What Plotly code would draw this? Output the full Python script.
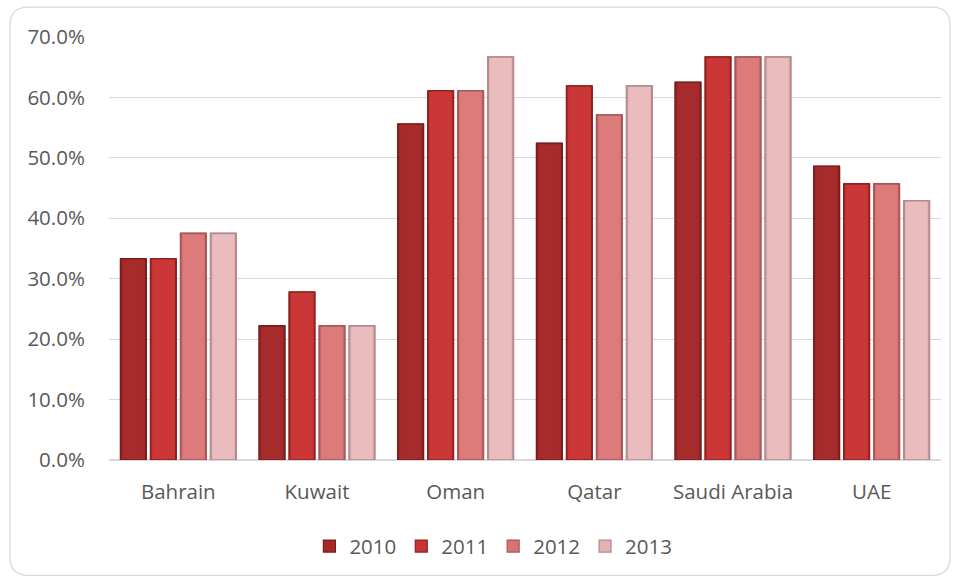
import plotly.graph_objects as go

# Share of indicators met, by country and year
countries = ["Bahrain", "Kuwait", "Oman", "Qatar", "Saudi Arabia", "UAE"]
years = ["2010", "2011", "2012", "2013"]
v2010 = [0.333, 0.222, 0.556, 0.524, 0.625, 0.486]
v2011 = [0.333, 0.278, 0.611, 0.619, 0.667, 0.457]
v2012 = [0.375, 0.222, 0.611, 0.571, 0.667, 0.457]
v2013 = [0.375, 0.222, 0.667, 0.619, 0.667, 0.429]
y_ticks = [0.0, 0.1, 0.2, 0.3, 0.4, 0.5, 0.6, 0.7]

series = [v2010, v2011, v2012, v2013]
fills = ["#A5292A", "#C63433", "#D87373", "#E6B3B5"]
edges = ["#7A1C1C", "#8F2322", "#A65757", "#B08A8C"]
cores = ["#A82B2B", "#CB3736", "#DD7B7B", "#EBBCBE"]

FONT = "Open Sans"
GREY = "#595959"
FS = 20.5

pitch = 0.2163   # distance between neighbouring bars in a group
bar_w = 0.1875   # bar width
core_w = 0.150   # lighter inner face, leaves shaded edges on both sides

fig = go.Figure()
for k, (yr, vals) in enumerate(zip(years, series)):
    off = (k - 1.5) * pitch
    xs = [i + off for i in range(len(countries))]
    # darker body gives the shaded sides
    fig.add_trace(go.Bar(
        x=xs, y=vals, width=bar_w, name=yr,
        marker=dict(color=fills[k], line=dict(color=edges[k], width=1.2)),
        hoverinfo="y",
    ))
    fig.add_trace(go.Bar(
        x=xs, y=vals, width=core_w, showlegend=False,
        marker=dict(color=cores[k], line=dict(width=0)),
        hoverinfo="skip",
    ))
    fig.add_trace(go.Bar(
        x=xs, y=vals, width=bar_w * 0.96, showlegend=False,
        marker=dict(color="rgba(0,0,0,0)", line=dict(color=edges[k], width=1.6)),
        hoverinfo="skip",
    ))

# rounded frame around the whole chart (paper coords relative to the plot area)
x0, x1, y0, y1 = -0.119, 1.0108, -0.2727, 1.0708
rx, ry = 0.022, 0.043
frame = (f"M {x0+rx},{y1} L {x1-rx},{y1} Q {x1},{y1} {x1},{y1-ry} "
         f"L {x1},{y0+ry} Q {x1},{y0} {x1-rx},{y0} "
         f"L {x0+rx},{y0} Q {x0},{y0} {x0},{y0+ry} "
         f"L {x0},{y1-ry} Q {x0},{y1} {x0+rx},{y1} Z")

fig.update_layout(
    width=958, height=579,
    margin=dict(l=109, r=17, t=37, b=118.5),
    paper_bgcolor="white", plot_bgcolor="white",
    barmode="overlay",
    font=dict(family=FONT, size=FS, color=GREY),
    shapes=[dict(type="path", path=frame, xref="paper", yref="paper",
                 line=dict(color="#DADADA", width=1.3), layer="below")],
    legend=dict(orientation="h", x=0.462, xanchor="center", y=-0.204, yanchor="middle",
                font=dict(family=FONT, size=FS, color=GREY),
                itemwidth=30, traceorder="normal"),
    showlegend=True,
)
fig.update_xaxes(
    range=[-0.5, 5.5], tickmode="array",
    tickvals=list(range(len(countries))), ticktext=countries,
    showgrid=False, zeroline=False, showline=False,
    ticks="outside", ticklen=13, tickcolor="rgba(0,0,0,0)",
    tickfont=dict(family=FONT, size=FS, color=GREY),
)
fig.update_yaxes(
    range=[0, 0.7], tickmode="array", tickvals=y_ticks, tickformat=".1%",
    showgrid=True, gridcolor="#D9D9D9", gridwidth=1.3,
    zeroline=True, zerolinecolor="#D9D9D9", zerolinewidth=1.6, showline=False,
    ticks="outside", ticklen=19, tickcolor="rgba(0,0,0,0)",
    tickfont=dict(family=FONT, size=FS, color=GREY),
)

fig.write_html("out.html")
